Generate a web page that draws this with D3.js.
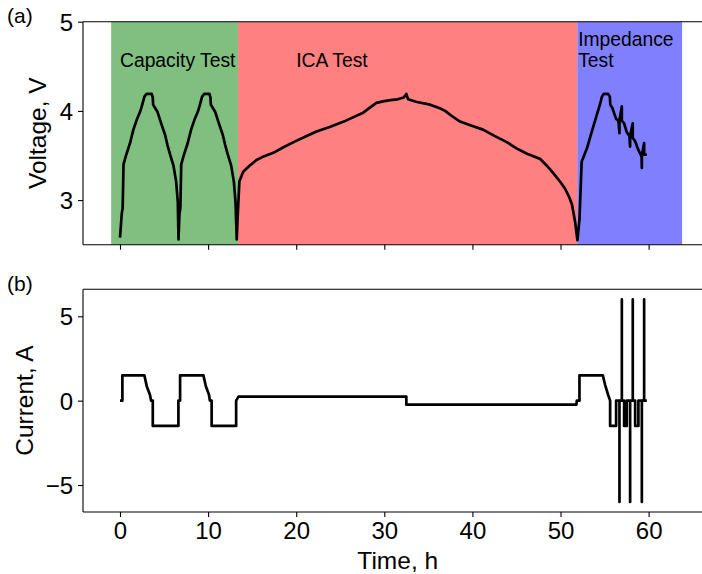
<!DOCTYPE html>
<html>
<head>
<meta charset="utf-8">
<script src="https://cdn.jsdelivr.net/npm/d3@7"></script>
<style>
  html, body { margin: 0; padding: 0; background: #fff; }
  svg { display: block; font-family: "Liberation Sans", Arial, Helvetica, sans-serif; }
</style>
</head>
<body>
<svg id="chart" width="702" height="574"></svg>
<script>
// ---------------- DATA ----------------
const voltTime = [
  0, 0.2, 0.3, 0.4, 0.65, 1.14, 1.52, 1.9, 2.28, 2.47, 2.77, 3.0, 3.6, 3.72, 3.76, 4.0, 4.25, 4.74, 5.12, 5.38, 5.69, 6.06, 6.37, 6.56, 6.64,
  6.75, 6.85, 6.95, 7.2, 7.69, 8.07, 8.45, 8.83, 9.02, 9.32, 9.55, 10.15, 10.27, 10.31, 10.55, 10.8, 11.29, 11.67, 11.93, 12.24, 12.61, 12.92, 13.11, 13.25,
  13.35, 13.55, 14.0, 14.77, 15.5, 16.3, 17.4, 18.5, 19.7, 21.0, 22.3, 23.8, 25.4, 26.5, 27.6, 28.4, 29.1, 30.0, 30.7, 31.5, 32.2, 32.5, 32.7,
  33.7, 35.2, 36.3, 36.9, 37.7, 38.6, 40.0, 41.2, 42.5, 43.9, 45.0, 46.2, 47.0, 47.7, 48.5, 49.2, 50.0, 50.5, 51.0, 51.3, 51.65, 51.92,
  52.05, 52.15, 52.4, 53.0, 53.5, 54.1, 54.5, 54.7, 54.9, 55.4, 55.6, 55.65, 55.9, 56.1, 56.31, 56.57, 56.69, 56.69, 56.96, 56.96, 57.22, 57.52,
  57.82, 57.9, 57.9, 58.2, 58.2, 58.47, 58.84, 59.2, 59.23, 59.23, 59.49, 59.49, 59.8
];
const voltValue = [
  2.58, 2.85, 2.91, 3.40, 3.49, 3.64, 3.79, 3.90, 3.99, 4.05, 4.16, 4.19, 4.19, 4.15, 4.07, 4.03, 3.99, 3.84, 3.73, 3.62, 3.51, 3.39, 3.21, 2.98, 2.56,
  2.85, 2.91, 3.40, 3.49, 3.64, 3.79, 3.90, 3.99, 4.05, 4.16, 4.19, 4.19, 4.15, 4.07, 4.03, 3.99, 3.84, 3.73, 3.62, 3.51, 3.39, 3.21, 2.98, 2.56,
  2.80, 3.21, 3.32, 3.39, 3.45, 3.49, 3.53, 3.59, 3.65, 3.71, 3.77, 3.82, 3.88, 3.93, 3.98, 4.04, 4.09, 4.11, 4.12, 4.13, 4.15, 4.19, 4.13,
  4.10, 4.07, 4.03, 4.00, 3.94, 3.88, 3.83, 3.79, 3.72, 3.65, 3.58, 3.52, 3.49, 3.46, 3.38, 3.30, 3.20, 3.13, 3.03, 2.95, 2.76, 2.55,
  2.68, 2.78, 3.43, 3.58, 3.75, 3.95, 4.08, 4.16, 4.19, 4.19, 4.16, 4.07, 4.03, 3.97, 3.91, 3.89, 3.75, 3.90, 4.05, 3.89, 3.86, 3.76,
  3.72, 3.60, 3.72, 3.86, 3.70, 3.66, 3.56, 3.49, 3.36, 3.50, 3.64, 3.51, 3.51
];

const currTime = [
  0, 0.27, 0.27, 2.77, 3.04, 3.4, 3.53, 3.72, 3.72, 6.63, 6.63, 6.82, 6.82, 9.47, 9.75, 10.1, 10.2, 10.4, 10.4, 13.18, 13.18, 13.45,
  32.5, 32.5, 51.8, 51.85, 52.15, 52.15, 54.8, 55.06, 55.4, 55.63, 55.63, 56.31, 56.31, 56.69, 56.69, 56.69, 56.96, 56.96, 56.96, 57.22, 57.22, 57.52,
  57.52, 57.9, 57.9, 57.9, 58.2, 58.2, 58.2, 58.47, 58.47, 58.84, 58.84, 59.23, 59.23, 59.23, 59.49, 59.49, 59.49, 59.8
];
const currValue = [
  0, 0, 1.5, 1.5, 0.84, 0.35, 0, 0, -1.5, -1.5, 0, 0, 1.5, 1.5, 0.84, 0.35, 0, 0, -1.5, -1.5, 0, 0.24,
  0.24, -0.24, -0.24, 0, 0, 1.5, 1.5, 0.94, 0.35, 0, -1.5, -1.5, 0, 0, -6, 0, 0, 6, 0, 0, -1.5, -1.5,
  0, 0, -6, 0, 0, 6, 0, 0, -1.5, -1.5, 0, 0, -6, 0, 0, 6, 0, 0
];

const phaseNames = ["Capacity Test", "ICA Test", "Impedance"];
const phaseStart = [-1, 13.4, 51.9];
const phaseEnd = [13.4, 51.9, 63.8];
const phaseColors = ["#80bf80", "#ff8080", "#8080ff"];
const phaseLabelX = [0, 20, 52];

const xTicks = [0, 10, 20, 30, 40, 50, 60];
const voltTicks = [3, 4, 5];
const currTicks = [-5, 0, 5];

// ---------------- LAYOUT ----------------
const svg = d3.select("#chart");
const xLeft = 83, xRight = 712.5;
const x = d3.scaleLinear().domain([-4.2, 67.25]).range([xLeft, xRight]);
const yV = d3.scaleLinear().domain([2.5, 5]).range([244.7, 21.7]);
const yI = d3.scaleLinear().domain([-6.6, 6.6]).range([512, 289.3]);

const tickFont = 24, labelFont = 24.5, textFont = 19.3, letterFont = 21;

function drawClip(y, clipId) {
  const [y0, y1] = y.range();
  svg.append("clipPath").attr("id", clipId)
    .append("rect").attr("x", xLeft).attr("y", y1).attr("width", xRight - xLeft).attr("height", y0 - y1);
}
drawClip(yV, "clipV");
drawClip(yI, "clipI");

// Phase rectangles (top panel)
const gV = svg.append("g");
gV.selectAll("rect.phase").data(phaseStart).enter().append("rect")
  .attr("class", "phase")
  .attr("x", (d) => x(d))
  .attr("width", (d, i) => x(phaseEnd[i]) - x(d))
  .attr("y", yV(5))
  .attr("height", yV(2.5) - yV(5))
  .attr("fill", (d, i) => phaseColors[i]);

// Phase labels
gV.append("text").attr("x", x(phaseLabelX[0])).attr("y", 66.5)
  .attr("font-size", textFont).attr("fill", "#000").text(phaseNames[0]);
gV.append("text").attr("x", x(phaseLabelX[1])).attr("y", 66.5)
  .attr("font-size", textFont).attr("fill", "#000").text(phaseNames[1]);
const imp = gV.append("text").attr("x", x(phaseLabelX[2])).attr("y", 45.5)
  .attr("font-size", textFont).attr("fill", "#000");
imp.append("tspan").attr("x", x(phaseLabelX[2])).text(phaseNames[2]);
imp.append("tspan").attr("x", x(phaseLabelX[2])).attr("dy", 21).text("Test");

// Voltage line
const voltData = voltTime.map((t, i) => [t, voltValue[i]]);
gV.append("path").datum(voltData)
  .attr("clip-path", "url(#clipV)")
  .attr("fill", "none").attr("stroke", "#000").attr("stroke-width", 2.7)
  .attr("stroke-linejoin", "round")
  .attr("d", d3.line().x((d) => x(d[0])).y((d) => yV(d[1])));

// Current line
const currData = currTime.map((t, i) => [t, currValue[i]]);
svg.append("path").datum(currData)
  .attr("clip-path", "url(#clipI)")
  .attr("fill", "none").attr("stroke", "#000").attr("stroke-width", 2.7)
  .attr("stroke-linejoin", "round")
  .attr("d", d3.line().x((d) => x(d[0])).y((d) => yI(d[1])));

// Axes
function styleAxis(g) {
  g.selectAll("path.domain").remove();
  g.selectAll(".tick line").attr("stroke", "#000").attr("stroke-width", 1.1);
  g.selectAll(".tick text").attr("fill", "#000").attr("font-size", tickFont)
    .attr("font-family", "'Liberation Sans', Arial, Helvetica, sans-serif");
}

function frame(y) {
  const [b, t] = y.range();
  const g = svg.append("g");
  g.append("line").attr("x1", xLeft).attr("x2", xLeft).attr("y1", t).attr("y2", b);
  g.append("line").attr("x1", xLeft).attr("x2", xRight).attr("y1", t).attr("y2", t);
  g.append("line").attr("x1", xLeft).attr("x2", xRight).attr("y1", b).attr("y2", b);
  g.append("line").attr("x1", xRight).attr("x2", xRight).attr("y1", t).attr("y2", b);
  g.selectAll("line").attr("stroke", "#000").attr("stroke-width", 1.1);
}

// top panel axes
const axVx = svg.append("g").attr("transform", `translate(0,${yV(2.5)})`)
  .call(d3.axisBottom(x).tickValues(xTicks).tickSize(5).tickFormat(""));
styleAxis(axVx);
const axVy = svg.append("g").attr("transform", `translate(${xLeft},0)`)
  .call(d3.axisLeft(yV).tickValues(voltTicks).tickSize(5).tickPadding(5).tickFormat(d3.format("d")));
styleAxis(axVy);
axVy.selectAll(".tick text").attr("dy", "0.36em");
frame(yV);

// bottom panel axes
const axIx = svg.append("g").attr("transform", `translate(0,${yI(-6.6)})`)
  .call(d3.axisBottom(x).tickValues(xTicks).tickSize(5).tickPadding(5).tickFormat(d3.format("d")));
styleAxis(axIx);
const axIy = svg.append("g").attr("transform", `translate(${xLeft},0)`)
  .call(d3.axisLeft(yI).tickValues(currTicks).tickSize(5).tickPadding(5).tickFormat(d3.format("d")));
styleAxis(axIy);
axIy.selectAll(".tick text").attr("dy", "0.36em");
frame(yI);

// Axis labels
svg.append("text").attr("transform", `translate(45.5,${(yV(2.5) + yV(5)) / 2}) rotate(-90)`)
  .attr("text-anchor", "middle").attr("font-size", labelFont).attr("fill", "#000").text("Voltage, V");
svg.append("text").attr("transform", `translate(32.5,${(yI(-6.6) + yI(6.6)) / 2}) rotate(-90)`)
  .attr("text-anchor", "middle").attr("font-size", labelFont).attr("fill", "#000").text("Current, A");
svg.append("text").attr("x", (x(-4.2) + x(67.25)) / 2).attr("y", 569)
  .attr("text-anchor", "middle").attr("font-size", labelFont).attr("fill", "#000").text("Time, h");

// Panel letters
svg.append("text").attr("x", 7).attr("y", 23).attr("font-size", letterFont).attr("fill", "#000").text("(a)");
svg.append("text").attr("x", 7).attr("y", 291).attr("font-size", letterFont).attr("fill", "#000").text("(b)");
</script>
</body>
</html>
